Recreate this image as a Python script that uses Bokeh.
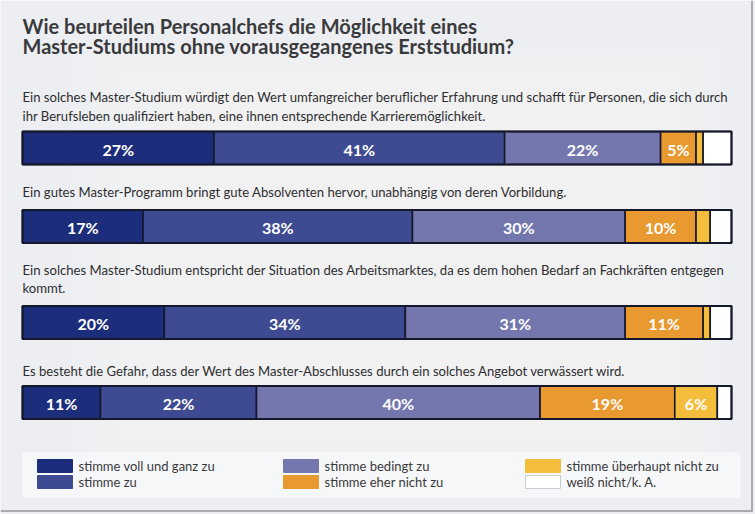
from bokeh.plotting import figure
from bokeh.models import Range1d, ColumnDataSource
from bokeh.core.properties import value
from bokeh.embed import file_html
from bokeh.resources import INLINE

# ---- data ----
title_lines = ["Wie beurteilen Personalchefs die Möglichkeit eines",
               "Master-Studiums ohne vorausgegangenes Erststudium?"]
questions = [
    ["Ein solches Master-Studium würdigt den Wert umfangreicher beruflicher Erfahrung und schafft für Personen, die sich durch",
     "ihr Berufsleben qualifiziert haben, eine ihnen entsprechende Karrieremöglichkeit."],
    ["Ein gutes Master-Programm bringt gute Absolventen hervor, unabhängig von deren Vorbildung."],
    ["Ein solches Master-Studium entspricht der Situation des Arbeitsmarktes, da es dem hohen Bedarf an Fachkräften entgegen",
     "kommt."],
    ["Es besteht die Gefahr, dass der Wert des Master-Abschlusses durch ein solches Angebot verwässert wird."],
]
categories = ["stimme voll und ganz zu", "stimme zu", "stimme bedingt zu",
              "stimme eher nicht zu", "stimme überhaupt nicht zu", "weiß nicht/k. A."]
voll_und_ganz = [27, 17, 20, 11]
stimme_zu = [41, 38, 34, 22]
bedingt = [22, 30, 31, 40]
eher_nicht = [5, 10, 11, 19]
ueberhaupt_nicht = [1, 2, 1, 6]
weiss_nicht = [4, 3, 3, 2]
series = [voll_und_ganz, stimme_zu, bedingt, eher_nicht, ueberhaupt_nicht, weiss_nicht]
colors = ["#1c2e7b", "#3e4b92", "#7377ae", "#e8992f", "#f4be3c", "#ffffff"]

# ---- layout (pixels) ----
W, H = 755, 514
BAR_L, BAR_R = 22, 731
scale = (BAR_R - BAR_L) / 100.0
def dx(px):
    return (px - BAR_L) / scale

bar_y = [147.5, 226, 322, 402]
bar_h = 33
q_y = [[96, 115], [191], [269, 287], [370]]

p = figure(width=W, height=H, output_backend="svg", toolbar_location=None,
           x_range=Range1d(dx(0), dx(W)), y_range=Range1d(H, 0),
           min_border=0, min_border_left=0, min_border_right=0,
           min_border_top=0, min_border_bottom=0)
p.axis.visible = False
p.grid.visible = False
p.outline_line_color = None
p.background_fill_color = "#eceef2"
p.border_fill_color = "#eceef2"

# soft lighter gradient toward the middle (background style)
for i in range(8):
    m = 30 + i * 22
    p.quad(left=dx(m + 40), right=dx(W - m), top=m * 0.5 + 30, bottom=H - m * 0.4 - 40,
           fill_color="#f8f9fb", fill_alpha=0.13, line_color=None)
# frame edges right/bottom
p.segment(x0=[dx(751.5), dx(0)], y0=[0, 510.5], x1=[dx(751.5), dx(752)], y1=[511, 510.5],
          line_color="#a9abaf", line_width=2)

# title
for i, t in enumerate(title_lines):
    p.text(x=[dx(22)], y=[25 + 20 * i], text=[t], text_font=value("Lato"),
           text_font_style="bold", text_font_size="20px", text_color="#3a3a3c",
           text_baseline="middle")

# questions
for lines, ys in zip(questions, q_y):
    for t, yy in zip(lines, ys):
        p.text(x=[dx(22)], y=[yy], text=[t], text_font=value("Lato"),
               text_font_size="13.1px", text_color="#2e2e30", text_baseline="middle")

# bars
lefts_all = []
for r in range(len(bar_y)):
    cum = 0
    row = []
    for s in series:
        row.append((cum, cum + s[r]))
        cum += s[r]
    lefts_all.append(row)

for k, (s, c) in enumerate(zip(series, colors)):
    src = ColumnDataSource(dict(
        y=bar_y,
        left=[lefts_all[r][k][0] for r in range(len(bar_y))],
        right=[lefts_all[r][k][1] for r in range(len(bar_y))],
        val=s,
    ))
    p.hbar(y="y", left="left", right="right", height=bar_h, source=src,
           fill_color=c, line_color="#15172a", line_width=1.6)

# outer bar outlines
p.hbar(y=bar_y, left=0, right=100, height=bar_h, fill_color=None,
       line_color="#15172a", line_width=2)

# labels
lx, ly, lt = [], [], []
for r in range(len(bar_y)):
    for k, s in enumerate(series[:5]):
        if s[r] >= 5:
            a, b = lefts_all[r][k]
            lx.append((a + b) / 2)
            ly.append(bar_y[r] + 1)
            lt.append(f"{s[r]}%")
p.text(x=lx, y=ly, text=lt, text_font=value("Lato"), text_font_style="bold",
       text_font_size="16px", text_color="#ffffff", text_align="center",
       text_baseline="middle")

# legend box
p.quad(left=dx(22), right=dx(740), top=452, bottom=497, fill_color="#f6f7f9",
       line_color=None)
leg_x = [37, 37, 283, 283, 525, 525]
leg_y = [465.5, 481.5, 465.5, 481.5, 465.5, 481.5]
for i in range(len(categories)):
    p.quad(left=dx(leg_x[i]), right=dx(leg_x[i] + 35), top=leg_y[i] - 6.5,
           bottom=leg_y[i] + 6.5, fill_color=colors[i],
           line_color="#c8cad0" if colors[i] == "#ffffff" else colors[i], line_width=1)
    p.text(x=[dx(leg_x[i] + 41)], y=[leg_y[i]], text=[categories[i]],
           text_font=value("Lato"), text_font_size="13px", text_color="#3a3a3c",
           text_baseline="middle")

open("out.html", "w").write(file_html(p, INLINE))
